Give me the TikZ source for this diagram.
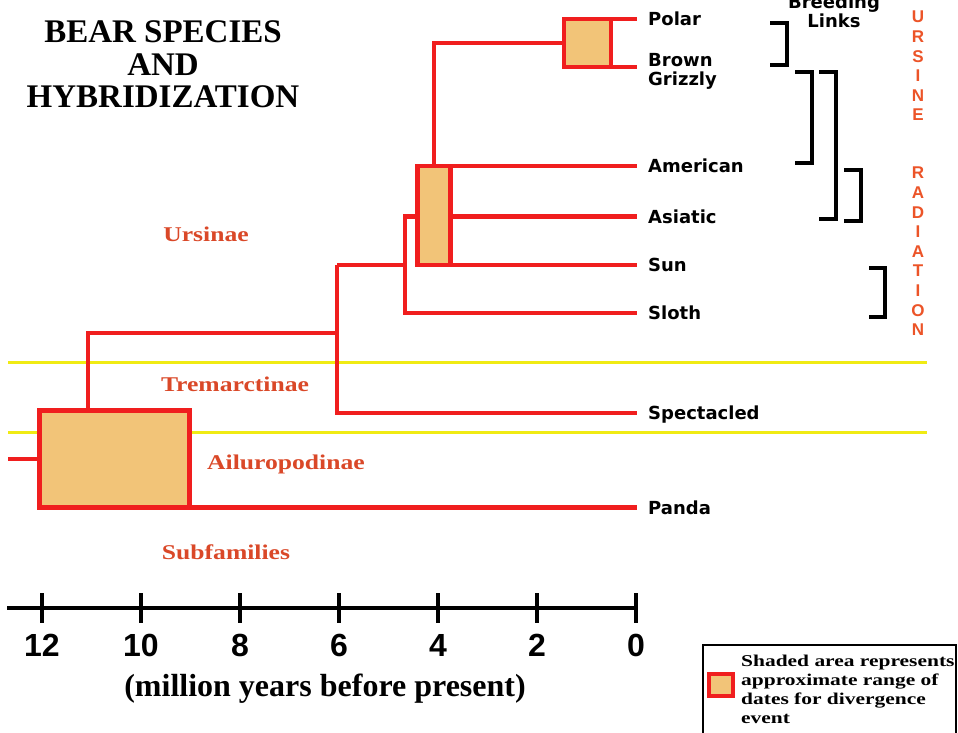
\documentclass[tikz,border=0pt]{standalone}
\usepackage{fontspec}
\setmainfont{Liberation Serif}
\newfontfamily\labelsans{DejaVu Sans}
\newfontfamily\axisfont{Liberation Sans}
\newfontfamily\wideserif[FakeStretch=1.22]{Liberation Serif}
\newfontfamily\legendserif[FakeStretch=1.3]{Liberation Serif}
\definecolor{treered}{RGB}{240,30,30}
\definecolor{rangefill}{RGB}{242,196,120}
\definecolor{zoneyellow}{RGB}{240,235,20}
\definecolor{subred}{RGB}{218,72,40}
\definecolor{radred}{RGB}{236,84,40}
\tikzset{
  branch/.style={draw=treered, line width=4.5pt},
  rangebox/.style={draw=treered, line width=4.5pt, fill=rangefill, inner sep=0pt, outer sep=0pt},
  zone/.style={draw=zoneyellow, line width=3pt},
  linkbar/.style={draw=black, line width=4.5pt},
  axisline/.style={draw=black, line width=4pt},
  species/.style={anchor=west, inner xsep=11pt, inner ysep=0pt, text height=13pt, text depth=0pt,
    font=\labelsans\bfseries\fontsize{18}{20}\selectfont},
  subfam/.style={text=subred, inner sep=0pt, text height=14pt, text depth=0pt,
    font=\wideserif\bfseries\fontsize{21}{21}\selectfont},
  tickno/.style={font=\axisfont\bfseries\fontsize{32}{32}\selectfont, inner sep=0pt},
  titletext/.style={anchor=base, inner sep=0pt, font=\bfseries\fontsize{33}{33}\selectfont},
  radletters/.style={align=center, text=radred, inner sep=0pt,
    font=\axisfont\bfseries\fontsize{17}{19.6}\selectfont},
}
\begin{document}
\begin{tikzpicture}[x=1pt,y=-1pt]
\useasboundingbox (0,0) rectangle (958,732);
\clip (0,0) rectangle (958,732);
\fill[white] (0,0) rectangle (958,732);

% subfamily zone lines
\coordinate (z1w) at (8,362); \coordinate (z1e) at (927,362);
\coordinate (z2w) at (8,432); \coordinate (z2e) at (927,432);
\draw[zone] (z1w) -- (z1e);
\draw[zone] (z2w) -- (z2e);

% title
\node[titletext] (t1) at (163,42) {BEAR SPECIES};
\node[titletext] (t2) at (163,75) {AND};
\node[titletext] (t3) at (163,107) {HYBRIDIZATION};

% subfamily labels
\node[subfam] (urs) at (206,234) {Ursinae};
\node[subfam] (tre) at (235,384) {Tremarctinae};
\node[subfam] (ail) at (286,462) {Ailuropodinae};
\node[subfam] (sub) at (226,552) {Subfamilies};

% species labels
\node[species] (polar) at (637,19) {Polar};
\node[species] (brown) at (637,60) {Brown};
\node[species] (grizzly) at (637,79) {Grizzly};
\node[species] (american) at (637,166) {American};
\node[species] (asiatic) at (637,216.5) {Asiatic};
\node[species] (sun) at (637,265) {Sun};
\node[species] (sloth) at (637,313) {Sloth};
\node[species] (spect) at (637,413) {Spectacled};
\node[species] (panda) at (637,508) {Panda};

% range boxes
\node[rangebox, minimum width=150pt, minimum height=97pt] (b1) at (114.5,459) {};
\node[rangebox, minimum width=33pt, minimum height=99pt] (b2) at (434,215.5) {};
\node[rangebox, minimum width=47pt, minimum height=48pt] (b3) at (587.5,43) {};

% tree
\coordinate (root) at (8,459);
\coordinate (j1) at (88,333);
\coordinate (j2) at (337,265);
\coordinate (slt) at (405,216.5);
\coordinate (slb) at (405,313);
\coordinate (j4) at (434,43);

\draw[branch] (root) -- (b1.west);
\draw[branch] (j1 |- b1.north) -- (j1) -- (j1 -| j2);
\draw[branch] (j2) -- (j2 |- spect.west) -- (spect.west);
\draw[branch] (j2) -- (j2 -| slt);
\draw[branch] (b2.west |- slt) -- (slt) -- (slb) -- (sloth.west);
\draw[branch] (b1.south east) -- (b1.south east -| panda.west);
\draw[branch] (b2.north east) -- (american.west);
\draw[branch] (b2.east |- asiatic.west) -- (asiatic.west);
\draw[branch] (b2.south east) -- (sun.west);
\draw[branch] (b2.north) -- (j4) -- (b3.west);
\draw[branch] (b3.north east) -- (b3.north east -| polar.west);
\draw[branch] (b3.south east) -- (b3.south east -| brown.west);

% breeding links
\node[align=center, inner sep=0pt, font=\labelsans\bfseries\fontsize{18}{19}\selectfont] (breed) at (834,11) {Breeding\\Links};
\draw[linkbar] (770,23) -| (787,65) -- (770,65);
\draw[linkbar] (795,72) -| (812,163) -- (795,163);
\draw[linkbar] (819,72) -| (836,219) -- (819,219);
\draw[linkbar] (844,170) -| (861,221) -- (844,221);
\draw[linkbar] (869,268) -| (885,317) -- (869,317);

% ursine radiation
\node[radletters] (ursine) at (918,66) {U\\R\\S\\I\\N\\E};
\node[radletters] (radiation) at (918,251.5) {R\\A\\D\\I\\A\\T\\I\\O\\N};

% time axis
\coordinate (ax0) at (7,608);
\coordinate (ax1) at (636,608);
\draw[axisline] (ax0) -- (ax1);
\foreach \t in {0,2,...,12}{
  \draw[axisline] ({636-49.5*\t},593) -- ({636-49.5*\t},623);
  \node[tickno] (n\t) at ({636-49.5*\t},645) {\t};
}
\node[inner sep=0pt, font=\bfseries\fontsize{32}{32}\selectfont] (axcap) at (325,689) {(million years before present)};

% legend
\draw[black, line width=2.5pt] (703,645) rectangle (956,745);
\node[rangebox, line width=4pt, minimum width=24pt, minimum height=22pt] (legsq) at (721,685) {};
\node[anchor=north west, inner sep=0pt, align=left,
  font=\legendserif\bfseries\fontsize{16.5}{19}\selectfont] (legtext) at (741,655)
  {Shaded area represents\\approximate range of\\dates for divergence\\event};
\end{tikzpicture}
\end{document}
